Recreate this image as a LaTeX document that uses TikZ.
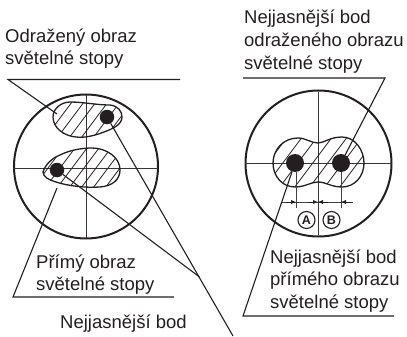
\documentclass[tikz,border=0pt]{standalone}
\usepackage{fontspec}
\setmainfont{Liberation Sans}
\usetikzlibrary{arrows.meta, positioning}
\definecolor{ink}{HTML}{231f20}
\tikzset{
  scope1/.style   = {x=1pt, y=-1pt},
  popis/.style    = {font=\fontsize{18.5}{22}\selectfont, text=ink, anchor=base west, inner sep=0pt, align=left},
  kruh/.style     = {draw=ink, line width=2pt},
  osa/.style      = {draw=ink!90, line width=1pt},
  skvrna/.style   = {draw=ink, line width=1.3pt},
  srafa/.style    = {draw=ink, line width=0.8pt},
  tecka/.style    = {circle, fill=ink, inner sep=0pt},
  vodic/.style    = {draw=ink, line width=1.1pt},
  koty/.style     = {draw=ink!85, line width=0.9pt},
  sipka/.style    = {-{Latex[length=5pt,width=4.5pt]}, draw=ink, line width=0.9pt},
  znak/.style     = {circle, draw=ink, line width=1.1pt, minimum size=17pt, inner sep=0pt,
                     font=\fontsize{12.5}{12.5}\selectfont\bfseries, text=ink},
}
% obrysy skvrn
\def\skvrnaA{(53,117) .. controls (53,108) and (62,102) .. (70,102) .. controls (84,102) and (96,105) .. (110,105)
  .. controls (118,106) and (122,111) .. (122,117) .. controls (122,125) and (112,129) .. (104,132)
  .. controls (94,136) and (84,138) .. (76,137) .. controls (64,136) and (53,128) .. (53,117) -- cycle}
\def\skvrnaB{(43,172) .. controls (45,165) and (52,158) .. (60,155) .. controls (70,150) and (82,148) .. (92,148)
  .. controls (106,148) and (120,157) .. (120,170) .. controls (120,180) and (112,186) .. (100,187)
  .. controls (86,188) and (68,186) .. (56,182) .. controls (49,180) and (43,177) .. (43,172) -- cycle}
\def\skvrnaC{(273,163) .. controls (273,150) and (283,138) .. (298,138) .. controls (306,138) and (311,143) .. (318,143)
  .. controls (324,143) and (330,137) .. (342,137) .. controls (355,137) and (364,150) .. (364,163)
  .. controls (364,176) and (355,187) .. (342,187) .. controls (331,187) and (326,182) .. (318,182)
  .. controls (311,182) and (305,187) .. (295,187) .. controls (282,187) and (273,176) .. (273,163) -- cycle}
\begin{document}
\begin{tikzpicture}[scope1]
  \useasboundingbox (0,0) rectangle (407,337);

  % levy kruh
  \coordinate (lk) at (86,166.5);
  \draw[kruh] (lk) circle[radius=72pt];
  \draw[osa] (13,168) -- (158,168);
  \draw[osa] (86,95) -- (86,238);

  \begin{scope}
    \clip \skvrnaA;
    \foreach \i in {-60,-48,...,250}
      \draw[srafa] (\i,150) -- ++(60,-80);
  \end{scope}
  \draw[skvrna] \skvrnaA;
  \begin{scope}
    \clip \skvrnaB;
    \foreach \i in {-60,-48,...,250}
      \draw[srafa] (\i,200) -- ++(60,-80);
  \end{scope}
  \draw[skvrna] \skvrnaB;

  \node[tecka, minimum size=14.5pt] (odraz) at (107,117) {};
  \node[tecka, minimum size=14.5pt] (primy) at (57,170) {};

  % pravy kruh
  \coordinate (pk) at (318.5,163.5);
  \draw[kruh] (pk) circle[radius=73pt];
  \draw[osa] (245,163) -- (392,163);
  \draw[osa] (318,92) -- (318,235);
  \begin{scope}
    \clip \skvrnaC;
    \foreach \i in {-60,-45,...,480}
      \draw[srafa] (\i,200) -- ++(60,-80);
  \end{scope}
  \draw[skvrna] \skvrnaC;
  \node[tecka, minimum size=18pt] (bodA) at (295,163) {};
  \node[tecka, minimum size=18pt] (bodB) at (341,163) {};

  % koty
  \draw[koty] (296,172) -- (296,208);
  \draw[koty] (341,172) -- (341,208);
  \draw[koty] (281,202) -- (353,202);
  \draw[sipka] (286,202) -- (296,202);
  \draw[sipka] (308,202) -- (318,202);
  \draw[sipka] (328,202) -- (318,202);
  \draw[sipka] (351,202) -- (341,202);
  \node[znak] (A) at (306.5,220) {A};
  \node[znak] (B) at (331.5,220) {B};

  % vodici cary
  \coordinate (v1) at (8,79.5);
  \coordinate (v1k) at (180,79.5);
  \coordinate (v1s) at (57,114);
  \draw[vodic] (v1k) -- (v1) -- (v1s);
  \coordinate (v2) at (13,297);
  \coordinate (v2k) at (174,297);
  \coordinate (v2s) at (57,188);
  \draw[vodic] (v2k) -- (v2) -- (v2s);
  \coordinate (v3) at (233,336);
  \coordinate (v3u) at (199.5,277);
  \draw[vodic] (odraz) -- (v3);
  \draw[vodic] (primy) -- (v3u);
  \coordinate (v4) at (385,78);
  \coordinate (v4k) at (243,78);
  \draw[vodic] (v4k) -- (v4) -- (bodB);
  \coordinate (v5) at (243,316);
  \coordinate (v5k) at (394,316);
  \draw[vodic] (v5k) -- (v5) -- (bodA);

  % popisky
  \node[popis] (t1) at (5,43) {Odražený obraz};
  \node[popis] (t2) at (5,65) {světelné stopy};
  \node[popis] (t3) at (244,24) {Nejjasnější bod};
  \node[popis] (t4) at (244,47) {odraženého obrazu};
  \node[popis] (t5) at (244,70) {světelné stopy};
  \node[popis] (t6) at (270,263) {Nejjasnější bod};
  \node[popis] (t7) at (270,285) {přímého obrazu};
  \node[popis] (t8) at (270,308) {světelné stopy};
  \node[popis] (t9) at (36,268) {Přímý obraz};
  \node[popis] (t10) at (36,290) {světelné stopy};
  \node[popis] (t11) at (60,328) {Nejjasnější bod};
\end{tikzpicture}
\end{document}
